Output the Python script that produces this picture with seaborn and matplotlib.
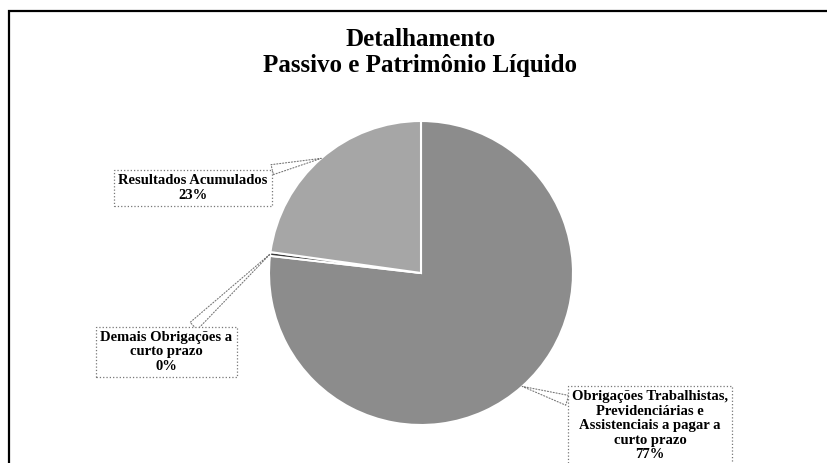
import matplotlib
matplotlib.use('Agg')
import matplotlib.pyplot as plt
import seaborn as sns
import numpy as np
from matplotlib.patches import Rectangle

# dados do gráfico (percentuais)
categorias = ['Obrigações Trabalhistas,\nPrevidenciárias e\nAssistenciais a pagar a\ncurto prazo',
              'Demais Obrigações a\ncurto prazo',
              'Resultados Acumulados']
valores = [76.8, 0.4, 22.8]
rotulos_pct = ['77%', '0%', '23%']
cores = ['#8c8c8c', '#3a3a3a', '#a6a6a6']

sns.set_theme(style='white')
plt.rcParams['font.family'] = ['Liberation Serif', 'DejaVu Serif']
plt.rcParams['text.color'] = 'black'

fig = plt.figure(figsize=(8.27, 4.63), dpi=100)
ax = fig.add_axes([0, 0, 1, 1])

wedges, _ = ax.pie(valores, colors=cores, startangle=90, counterclock=False,
                   wedgeprops=dict(edgecolor='white', linewidth=1.5))

# escala: centro do gráfico em (421, 273) px, raio ~152 px
cx, cy, r = 421, 273, 152
ax.set_xlim(-cx / r, (827 - cx) / r)
ax.set_ylim(-(463 - cy) / r, cy / r)
ax.axis('off')

# posições dos rótulos (fração da figura)
pos_rotulos = [(0.786, 0.080), (0.201, 0.240), (0.233, 0.594)]

for w, cat, pct, pos in zip(wedges, categorias, rotulos_pct, pos_rotulos):
    ang = np.deg2rad((w.theta1 + w.theta2) / 2)
    xy = (np.cos(ang), np.sin(ang))
    ax.annotate(f'{cat}\n{pct}', xy=xy, xycoords='data',
                xytext=pos, textcoords='figure fraction',
                ha='center', va='center', fontsize=10.5, fontweight='bold',
                linespacing=1.15, color='black',
                bbox=dict(boxstyle='square,pad=0.3', fc='white', ec='#777777',
                          ls=':', lw=0.9),
                arrowprops=dict(arrowstyle='wedge,tail_width=0.7', fc='white',
                                ec='#777777', ls=':', lw=0.8,
                                shrinkA=0, shrinkB=0))

# título
fig.text(0.508, 0.886, 'Detalhamento\nPassivo e Patrimônio Líquido',
         ha='center', va='center', fontsize=18, fontweight='bold',
         linespacing=1.15, color='black')

# moldura do gráfico
topo = 1 - 11 / 463
fig.add_artist(Rectangle((9 / 827, -0.2), 1.2, topo + 0.2,
                         transform=fig.transFigure, fill=False,
                         ec='black', lw=1.6, clip_on=False))

fig.savefig('out.png', dpi=100)
